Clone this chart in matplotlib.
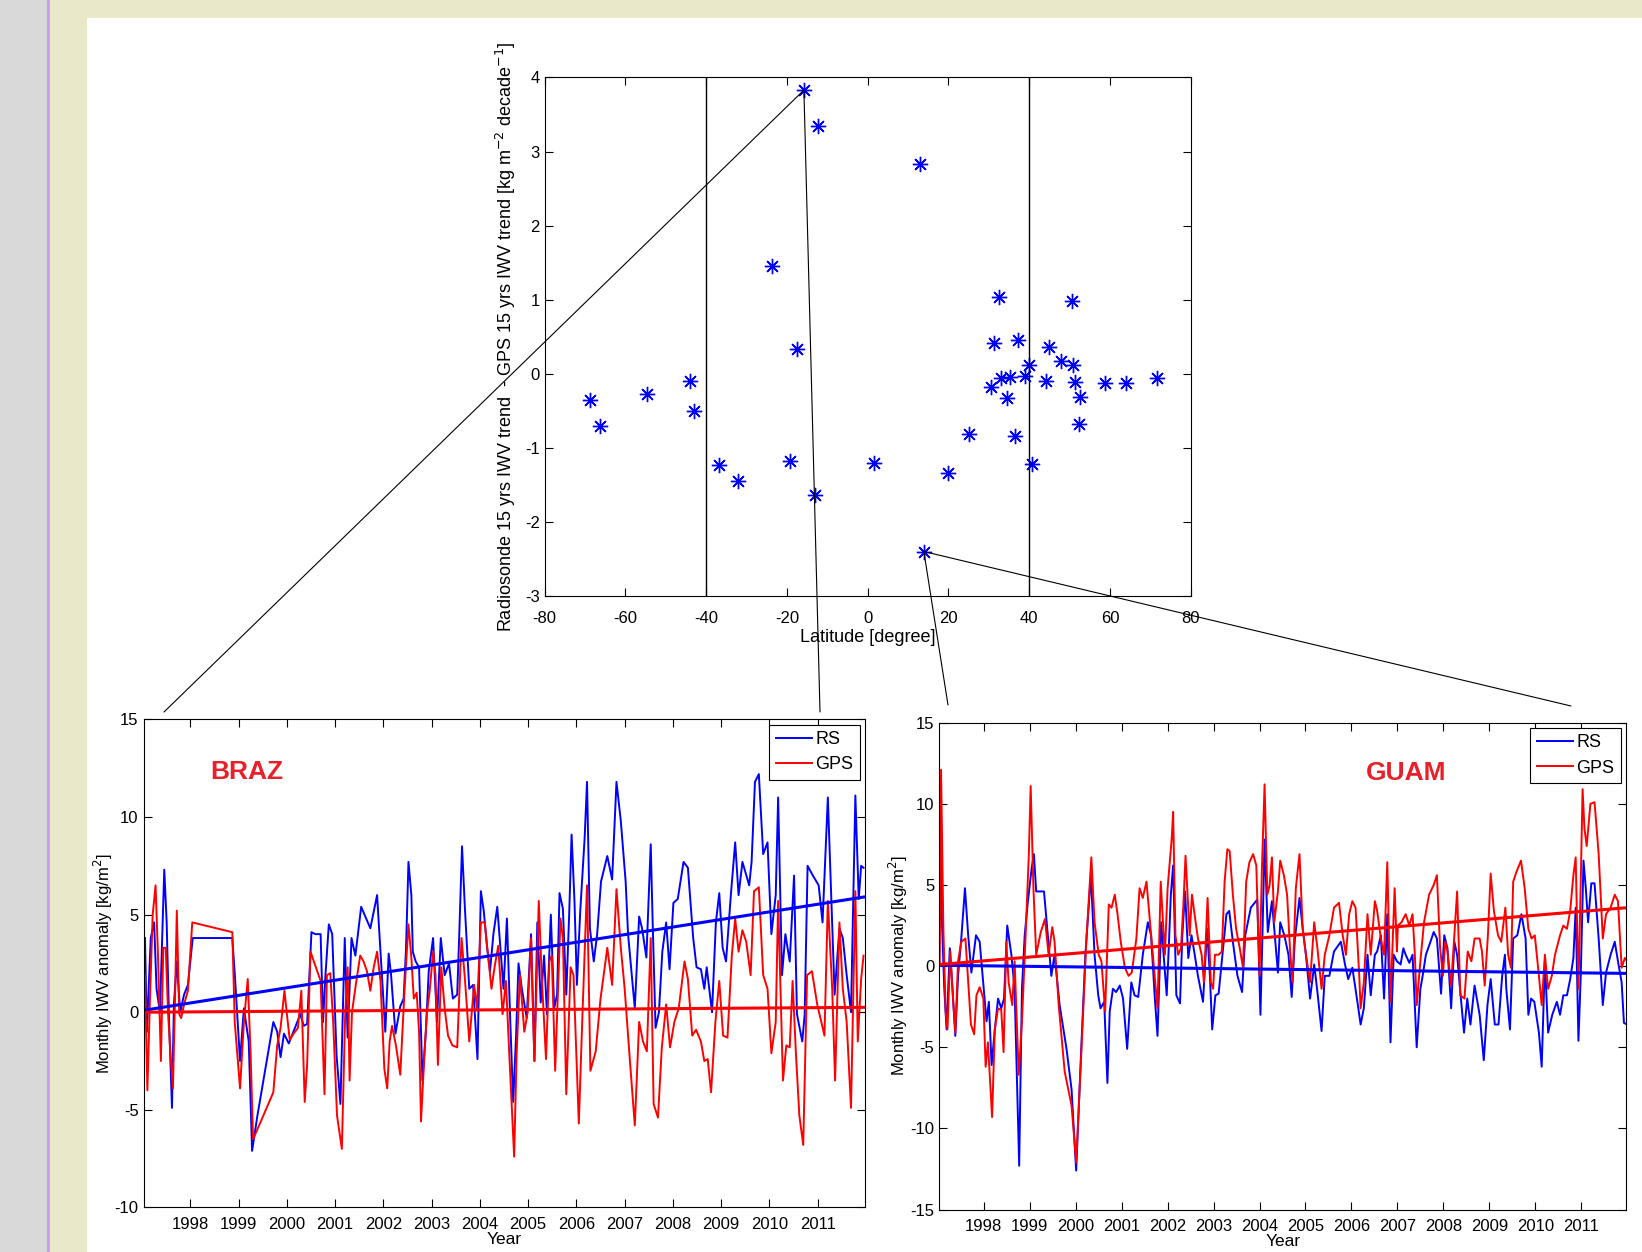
###########################################
# RS vs GPS IWV trends - scatter + 2 sites #
###########################################
import numpy as np
import matplotlib
matplotlib.use('Agg')
import matplotlib.pyplot as plt
from matplotlib.patches import Rectangle, ConnectionPatch

plt.rcParams['font.family'] = ['Liberation Sans', 'DejaVu Sans']
plt.rcParams['axes.unicode_minus'] = False

#################
# Scatter data  #
#################
# latitude [deg], RS trend - GPS trend [kg m-2 decade-1]
lat = [-68.7, -66.2, -54.6, -44.0, -42.9, -36.8, -32.0, -23.7, -19.2, -17.6,
       -15.8, -12.3, -13.0, 1.5, 12.9, 13.9, 19.8, 25.1, 30.5, 31.3,
       32.6, 33.0, 34.6, 35.3, 36.5, 37.3, 39.0, 40.0, 40.7, 44.1,
       44.8, 47.8, 50.6, 50.9, 51.3, 52.6, 52.3, 58.7, 63.9, 71.7]
trend_diff = [-0.36, -0.70, -0.27, -0.10, -0.50, -1.23, -1.45, 1.46, -1.18, 0.34,
              3.83, 3.35, -1.64, -1.20, 2.83, -2.40, -1.34, -0.82, -0.18, 0.42,
              1.03, -0.06, -0.33, -0.04, -0.84, 0.46, -0.03, 0.12, -1.22, -0.10,
              0.36, 0.17, 0.98, 0.12, -0.11, -0.32, -0.68, -0.13, -0.13, -0.06]

# stations picked out below
braz_pt = (-15.8, 3.83)
guam_pt = (13.9, -2.40)

#########################################
# Monthly IWV anomaly (year, kg/m2)     #
#########################################
braz_rs = [(1997.06, 3.8), (1997.10, -1.0), (1997.18, 3.8), (1997.25, 4.6), (1997.30, 1.2),
           (1997.37, 0.0), (1997.46, 7.3), (1997.51, 4.6), (1997.56, -0.5), (1997.62, -4.9),
           (1997.66, 0.4), (1997.72, 2.6), (1997.79, 0.0), (1997.87, 0.9), (1997.95, 1.4),
           (1998.05, 3.8), (1998.87, 3.8), (1998.92, 2.0), (1999.03, -2.5), (1999.11, 0.2),
           (1999.21, -1.5), (1999.28, -7.1), (1999.39, -5.3), (1999.72, -0.5), (1999.80, -1.0),
           (1999.87, -2.3), (1999.94, -1.1), (2000.04, -1.6), (2000.28, -0.1), (2000.35, -0.7),
           (2000.42, -0.6), (2000.51, 4.1), (2000.59, 4.0), (2000.70, 4.0), (2000.75, -0.5),
           (2000.80, 1.9), (2000.87, 4.5), (2000.94, 4.0), (2001.03, -2.2), (2001.11, -4.7),
           (2001.20, 3.8), (2001.26, -1.3), (2001.34, 3.8), (2001.42, 2.9), (2001.54, 5.4),
           (2001.73, 4.3), (2001.87, 6.0), (2002.04, -1.0), (2002.11, 3.0), (2002.16, 1.9),
           (2002.25, -1.1), (2002.35, 0.3), (2002.42, 0.7), (2002.47, 3.3), (2002.52, 7.7),
           (2002.58, 6.0), (2002.61, 3.1), (2002.67, 2.6), (2002.74, 2.3), (2002.81, -3.5),
           (2002.88, -1.0), (2002.94, 2.1), (2003.03, 3.8), (2003.11, -0.5), (2003.19, 3.8),
           (2003.27, 1.9), (2003.36, 2.5), (2003.44, 0.7), (2003.53, 0.9), (2003.57, 3.8),
           (2003.63, 8.5), (2003.69, 5.3), (2003.78, 1.2), (2003.86, 1.4), (2003.95, -2.4),
           (2004.02, 6.2), (2004.08, 5.2), (2004.15, 3.3), (2004.21, 2.1), (2004.28, 4.0),
           (2004.36, 5.4), (2004.43, 3.1), (2004.49, 1.2), (2004.56, 4.8), (2004.63, -0.5),
           (2004.69, -4.6), (2004.75, -1.2), (2004.80, 2.5), (2004.87, 1.2), (2004.97, -0.3),
           (2005.06, 4.0), (2005.13, -2.5), (2005.19, 4.6), (2005.26, 0.5), (2005.33, 2.9),
           (2005.39, -0.1), (2005.47, 5.0), (2005.54, 0.2), (2005.60, 0.9), (2005.65, 6.1),
           (2005.72, 5.3), (2005.79, 0.9), (2005.85, 5.0), (2005.90, 9.1), (2005.96, 5.7),
           (2006.01, 1.4), (2006.08, 5.2), (2006.17, 8.9), (2006.22, 11.8), (2006.28, 4.3),
           (2006.36, 2.6), (2006.43, 4.0), (2006.51, 6.7), (2006.64, 8.0), (2006.74, 6.8),
           (2006.83, 11.8), (2006.92, 9.8), (2007.02, 6.7), (2007.07, 4.0), (2007.21, 0.2),
           (2007.30, 4.9), (2007.36, 4.3), (2007.45, 2.8), (2007.54, 8.6), (2007.58, 4.6),
           (2007.64, -0.8), (2007.71, 0.0), (2007.78, 3.1), (2007.86, 4.6), (2007.93, 2.2),
           (2008.01, 5.6), (2008.10, 5.8), (2008.22, 7.7), (2008.31, 7.4), (2008.42, 3.8),
           (2008.49, 2.3), (2008.58, 2.2), (2008.65, 1.2), (2008.70, 2.3), (2008.81, 0.0),
           (2008.89, 4.6), (2008.96, 6.1), (2009.03, 3.3), (2009.10, 2.6), (2009.20, 6.0),
           (2009.29, 8.7), (2009.36, 6.0), (2009.44, 7.7), (2009.58, 6.5), (2009.63, 7.7),
           (2009.70, 11.8), (2009.78, 12.2), (2009.87, 8.1), (2009.96, 8.7), (2010.04, 4.0),
           (2010.13, 6.0), (2010.18, 11.0), (2010.26, 1.9), (2010.33, 4.0), (2010.42, 2.6),
           (2010.51, 7.0), (2010.57, -0.1), (2010.68, -1.5), (2010.73, -0.1), (2010.79, 7.5),
           (2010.90, 7.0), (2011.02, 6.5), (2011.10, 4.6), (2011.21, 11.0), (2011.35, 0.9),
           (2011.45, 4.3), (2011.52, 3.8), (2011.60, 1.9), (2011.69, 0.0), (2011.78, 11.1),
           (2011.85, 5.8), (2011.90, 7.5), (2011.95, 7.4)]

braz_gps = [(1997.06, 1.9), (1997.11, -4.0), (1997.17, 1.2), (1997.22, 5.0), (1997.28, 6.5),
            (1997.33, 2.9), (1997.39, -2.5), (1997.44, 3.3), (1997.49, 3.3), (1997.54, -0.1),
            (1997.59, -2.2), (1997.64, -3.9), (1997.68, 0.4), (1997.72, 5.2), (1997.77, -0.1),
            (1997.81, -0.3), (1997.87, 0.4), (1997.95, 1.1), (1998.04, 4.6), (1998.87, 4.1),
            (1998.92, -0.5), (1999.03, -3.9), (1999.11, -0.5), (1999.19, 1.7), (1999.25, -2.2),
            (1999.30, -6.5), (1999.46, -5.6), (1999.72, -4.1), (1999.80, -1.7), (1999.87, -0.8),
            (1999.95, 1.1), (2000.01, -0.3), (2000.06, -1.4), (2000.14, -1.1), (2000.23, -0.8),
            (2000.30, 1.1), (2000.37, -4.6), (2000.42, -2.7), (2000.49, 3.1), (2000.56, 2.6),
            (2000.63, 2.1), (2000.70, 1.6), (2000.78, -4.2), (2000.83, 1.9), (2000.90, 2.0),
            (2000.96, -0.5), (2001.04, -5.3), (2001.14, -7.0), (2001.21, 0.0), (2001.26, 2.3),
            (2001.30, -3.5), (2001.35, 0.0), (2001.44, 1.6), (2001.52, 2.9), (2001.59, 2.6),
            (2001.66, 2.1), (2001.73, 1.1), (2001.80, 2.3), (2001.87, 3.1), (2001.94, 1.6),
            (2002.02, -2.9), (2002.08, -3.9), (2002.13, -1.5), (2002.18, -0.7), (2002.26, -1.7),
            (2002.35, -3.2), (2002.44, 1.2), (2002.52, 4.5), (2002.58, 2.8), (2002.63, 0.7),
            (2002.69, 1.0), (2002.74, -1.0), (2002.78, -5.6), (2002.85, -2.2), (2002.90, -0.1),
            (2002.96, 1.1), (2003.03, 3.1), (2003.08, 1.9), (2003.13, -2.7), (2003.20, 2.3),
            (2003.27, 0.2), (2003.34, -1.2), (2003.43, -1.7), (2003.53, -1.8), (2003.62, 3.8),
            (2003.69, 1.7), (2003.78, -1.5), (2003.88, 1.4), (2003.94, 0.2), (2004.02, 4.6),
            (2004.10, 4.6), (2004.17, 2.9), (2004.24, 1.2), (2004.31, 2.4), (2004.38, 3.4),
            (2004.47, -0.1), (2004.54, 1.6), (2004.61, -2.2), (2004.71, -7.4), (2004.76, -2.2),
            (2004.83, 1.9), (2004.92, -1.0), (2004.99, 0.0), (2005.06, 3.8), (2005.13, -2.5),
            (2005.22, 5.7), (2005.28, 1.9), (2005.37, -2.4), (2005.44, 2.6), (2005.49, 2.9),
            (2005.56, -3.0), (2005.67, 4.8), (2005.72, 3.8), (2005.79, -4.2), (2005.88, 2.3),
            (2005.94, 1.9), (2006.05, -5.7), (2006.12, -0.5), (2006.22, 6.5), (2006.29, -3.0),
            (2006.40, -2.0), (2006.50, 0.7), (2006.64, 3.3), (2006.74, 1.4), (2006.83, 6.3),
            (2006.92, 3.3), (2007.00, 1.2), (2007.10, -2.2), (2007.21, -5.8), (2007.30, -0.5),
            (2007.38, -1.5), (2007.46, -2.0), (2007.54, 3.8), (2007.60, -4.7), (2007.69, -5.4),
            (2007.77, -1.8), (2007.86, 0.4), (2007.94, -1.8), (2008.03, -0.5), (2008.12, 0.2),
            (2008.24, 2.6), (2008.31, 1.7), (2008.40, -1.2), (2008.48, -0.9), (2008.58, -1.5),
            (2008.65, -2.5), (2008.72, -2.4), (2008.79, -4.1), (2008.88, -0.5), (2008.96, 1.6),
            (2009.04, -1.2), (2009.13, -1.3), (2009.22, 2.9), (2009.29, 4.8), (2009.36, 3.1),
            (2009.44, 4.2), (2009.52, 3.6), (2009.61, 1.9), (2009.68, 6.2), (2009.78, 6.4),
            (2009.87, 1.9), (2009.96, 1.2), (2010.04, -2.1), (2010.13, -0.5), (2010.18, 5.7),
            (2010.28, -3.5), (2010.35, -1.7), (2010.42, -1.8), (2010.48, 1.6), (2010.55, -2.2),
            (2010.62, -5.3), (2010.70, -6.8), (2010.78, 1.9), (2010.88, 2.1), (2010.99, 0.4),
            (2011.14, -1.2), (2011.21, 5.7), (2011.30, 1.2), (2011.36, -3.5), (2011.45, 4.6),
            (2011.52, 1.2), (2011.60, -0.5), (2011.69, -4.9), (2011.78, 6.2), (2011.83, -1.5),
            (2011.90, 1.7), (2011.95, 2.9)]

guam_rs = [(1997.05, 4.4), (1997.07, 6.7), (1997.09, 2.7), (1997.14, -1.4), (1997.19, -3.9),
           (1997.26, 1.1), (1997.31, -1.0), (1997.38, -4.3), (1997.44, -0.6), (1997.51, 1.7),
           (1997.59, 4.8), (1997.66, 1.9), (1997.73, -0.4), (1997.83, 1.9), (1997.91, 1.5),
           (1998.01, -1.8), (1998.06, -3.4), (1998.11, -2.2), (1998.17, -6.1), (1998.24, -3.9),
           (1998.31, -2.0), (1998.38, -2.6), (1998.44, -2.0), (1998.51, 2.5), (1998.60, 0.7),
           (1998.67, -1.4), (1998.77, -12.3), (1998.83, -1.4), (1998.89, 1.9), (1998.96, 4.0),
           (1999.04, 6.0), (1999.09, 6.9), (1999.14, 4.6), (1999.31, 4.6), (1999.40, 1.7),
           (1999.47, -0.6), (1999.54, 0.7), (1999.65, -2.4), (1999.80, -5.1), (1999.91, -7.6),
           (2000.01, -12.6), (2000.12, -5.1), (2000.21, 0.7), (2000.33, 5.6), (2000.41, 0.7),
           (2000.49, -1.8), (2000.54, -2.6), (2000.62, -2.2), (2000.69, -7.2), (2000.74, -2.8),
           (2000.81, -1.4), (2000.88, -1.6), (2000.96, -1.2), (2001.03, -2.0), (2001.12, -5.1),
           (2001.21, -1.0), (2001.28, -1.8), (2001.36, -1.9), (2001.46, 0.7), (2001.57, 2.7),
           (2001.64, 1.9), (2001.72, -1.9), (2001.78, -4.3), (2001.86, 2.7), (2001.98, -1.8),
           (2002.03, 1.5), (2002.07, 4.4), (2002.12, 6.2), (2002.19, -1.8), (2002.27, -2.3),
           (2002.32, 1.9), (2002.38, 4.6), (2002.45, 0.5), (2002.52, 1.9), (2002.59, 0.7),
           (2002.66, -0.6), (2002.77, -2.2), (2002.86, 2.3), (2002.92, -0.6), (2002.97, -3.9),
           (2003.04, -1.8), (2003.11, -1.7), (2003.18, 0.3), (2003.28, 3.2), (2003.34, 3.4),
           (2003.42, 1.5), (2003.52, -0.6), (2003.62, -1.6), (2003.69, 1.9), (2003.81, 3.6),
           (2003.95, 4.1), (2004.02, -3.0), (2004.07, 2.7), (2004.11, 7.8), (2004.18, 2.1),
           (2004.27, 4.0), (2004.32, 2.3), (2004.40, -0.4), (2004.45, 2.7), (2004.54, 1.9),
           (2004.63, 0.7), (2004.70, -1.9), (2004.77, 1.7), (2004.87, 4.2), (2004.94, 2.3),
           (2005.01, 0.7), (2005.10, -2.0), (2005.19, 0.1), (2005.26, -1.6), (2005.35, -4.0),
           (2005.42, -0.6), (2005.52, -0.6), (2005.62, 0.9), (2005.77, 1.5), (2005.86, 0.1),
           (2005.93, -0.8), (2006.02, -0.1), (2006.13, -2.2), (2006.20, -3.6), (2006.27, -2.6),
           (2006.35, 0.7), (2006.42, -1.8), (2006.51, 0.7), (2006.56, 0.9), (2006.64, 1.9),
           (2006.71, -2.0), (2006.78, 3.2), (2006.85, -4.7), (2006.92, 0.7), (2006.99, 0.3),
           (2007.07, 0.1), (2007.13, 1.1), (2007.18, 0.7), (2007.26, 0.2), (2007.33, 0.7),
           (2007.38, -2.4), (2007.42, -5.0), (2007.50, -1.4), (2007.55, -0.6), (2007.62, 0.7),
           (2007.72, 1.5), (2007.79, 2.1), (2007.86, 1.7), (2007.95, -1.7), (2008.02, 1.9),
           (2008.09, 1.1), (2008.17, -2.6), (2008.24, 1.5), (2008.30, 0.7), (2008.35, -1.0),
           (2008.45, -4.1), (2008.52, -2.0), (2008.59, -3.6), (2008.68, -1.2), (2008.79, -3.0),
           (2008.88, -5.8), (2008.96, -2.4), (2009.03, -0.8), (2009.12, -3.6), (2009.20, -3.6),
           (2009.28, -0.6), (2009.34, 0.7), (2009.37, -1.4), (2009.45, -3.9), (2009.52, 1.7),
           (2009.61, 1.9), (2009.70, 3.2), (2009.79, 1.7), (2009.85, -3.0), (2009.91, -2.0),
           (2009.98, -2.2), (2010.08, -4.1), (2010.14, -6.2), (2010.21, 0.3), (2010.28, -4.1),
           (2010.37, -3.0), (2010.47, -2.2), (2010.54, -3.0), (2010.61, -1.8), (2010.69, -1.8),
           (2010.76, -0.8), (2010.83, 0.5), (2010.88, 3.6), (2010.94, -4.6), (2010.99, -0.6),
           (2011.05, 6.5), (2011.10, 4.8), (2011.15, 2.7), (2011.22, 5.1), (2011.29, 5.1),
           (2011.38, 1.7), (2011.47, -2.4), (2011.54, -0.4), (2011.64, 0.7), (2011.73, 1.5),
           (2011.80, 0.3), (2011.88, -1.0), (2011.93, -3.5), (2012.00, -3.6)]

guam_gps = [(1997.04, 0.1), (1997.07, 12.1), (1997.09, 8.1), (1997.12, 2.3), (1997.17, -2.8),
            (1997.21, -3.9), (1997.27, 0.9), (1997.33, -2.0), (1997.38, -4.1), (1997.44, 0.3),
            (1997.51, 1.5), (1997.60, 1.7), (1997.66, -1.0), (1997.72, -3.6), (1997.79, -4.2),
            (1997.84, -1.8), (1997.91, -1.3), (1997.99, -2.0), (1998.04, -6.2), (1998.09, -4.7),
            (1998.13, -6.7), (1998.18, -9.3), (1998.24, -3.9), (1998.31, -2.6), (1998.38, -2.7),
            (1998.43, -5.3), (1998.49, 1.5), (1998.54, -1.0), (1998.62, -2.4), (1998.67, 0.3),
            (1998.76, -6.7), (1998.83, -3.4), (1998.91, 1.9), (1998.98, 6.9), (1999.02, 11.1),
            (1999.08, 4.8), (1999.14, 0.7), (1999.24, 2.1), (1999.33, 2.9), (1999.41, 0.7),
            (1999.49, 2.4), (1999.54, 1.5), (1999.63, -2.4), (1999.76, -6.5), (1999.91, -8.6),
            (2000.01, -12.1), (2000.12, -5.5), (2000.23, 1.5), (2000.34, 6.7), (2000.41, 2.7),
            (2000.50, 0.7), (2000.56, 0.3), (2000.64, -2.8), (2000.72, 3.8), (2000.78, 3.6),
            (2000.85, 4.4), (2000.91, 3.2), (2000.98, 1.5), (2001.07, -0.1), (2001.15, -0.6),
            (2001.22, -0.4), (2001.32, 1.7), (2001.39, 4.8), (2001.46, 4.2), (2001.54, 5.2),
            (2001.66, 1.3), (2001.73, -1.0), (2001.78, -2.6), (2001.85, 5.2), (2001.94, 0.7),
            (2002.00, 4.8), (2002.05, 6.5), (2002.09, 7.9), (2002.12, 9.5), (2002.17, 1.9),
            (2002.23, 0.7), (2002.29, 1.1), (2002.34, 3.6), (2002.39, 6.8), (2002.45, 3.6),
            (2002.48, 1.9), (2002.53, 4.4), (2002.61, 2.7), (2002.66, 1.7), (2002.74, 0.7),
            (2002.79, -1.0), (2002.87, 4.2), (2002.94, -1.0), (2002.99, -1.4), (2003.03, 0.7),
            (2003.11, 0.7), (2003.18, 0.9), (2003.24, 5.2), (2003.30, 7.2), (2003.35, 7.1),
            (2003.42, 4.4), (2003.49, 2.3), (2003.57, 1.1), (2003.64, -0.1), (2003.71, 5.2),
            (2003.78, 6.4), (2003.86, 6.9), (2003.93, 6.2), (2004.00, -0.6), (2004.05, 5.8),
            (2004.11, 11.2), (2004.17, 4.4), (2004.22, 5.0), (2004.27, 6.7), (2004.32, 2.7),
            (2004.40, 4.6), (2004.45, 6.5), (2004.53, 5.6), (2004.60, 4.4), (2004.67, 0.7),
            (2004.72, -1.0), (2004.79, 4.8), (2004.87, 6.9), (2004.94, 2.3), (2005.01, 0.7),
            (2005.10, -1.0), (2005.19, 2.7), (2005.26, 1.1), (2005.35, -1.4), (2005.42, 0.7),
            (2005.52, 1.9), (2005.62, 3.6), (2005.73, 3.9), (2005.81, 1.9), (2005.88, 0.7),
            (2005.95, 3.2), (2006.02, 4.0), (2006.09, 3.6), (2006.17, -0.6), (2006.20, -2.6),
            (2006.27, -1.0), (2006.35, 3.2), (2006.42, 0.7), (2006.51, 4.0), (2006.56, 3.4),
            (2006.64, 1.7), (2006.71, 0.7), (2006.78, 6.4), (2006.85, -2.2), (2006.94, 4.8),
            (2006.99, 0.9), (2007.01, 2.5), (2007.09, 2.7), (2007.18, 3.2), (2007.26, 2.5),
            (2007.33, 3.2), (2007.38, 0.7), (2007.42, -2.4), (2007.50, 0.3), (2007.58, 2.7),
            (2007.69, 4.4), (2007.79, 5.0), (2007.86, 5.6), (2007.93, 1.1), (2007.99, -0.6),
            (2008.04, 1.5), (2008.09, 0.9), (2008.17, -1.2), (2008.24, 1.9), (2008.30, 4.6),
            (2008.37, -1.8), (2008.46, -2.0), (2008.53, 0.9), (2008.61, 0.3), (2008.68, 1.7),
            (2008.79, 1.7), (2008.84, 0.9), (2008.90, -1.2), (2008.97, 1.9), (2009.03, 5.7),
            (2009.10, 3.4), (2009.19, 1.9), (2009.26, 1.5), (2009.35, 3.6), (2009.41, 0.7),
            (2009.47, -0.1), (2009.52, 5.2), (2009.59, 5.8), (2009.69, 6.5), (2009.77, 4.8),
            (2009.85, 2.3), (2009.92, 1.7), (2009.99, 1.9), (2010.08, -0.6), (2010.14, -2.4),
            (2010.21, 0.7), (2010.28, -1.4), (2010.36, -0.6), (2010.43, 0.7), (2010.54, 1.9),
            (2010.61, 2.5), (2010.69, 2.3), (2010.76, 3.4), (2010.83, 5.6), (2010.88, 6.7),
            (2010.94, -1.4), (2010.99, 5.2), (2011.03, 10.9), (2011.07, 8.5), (2011.12, 7.4),
            (2011.20, 10.0), (2011.29, 10.1), (2011.38, 6.9), (2011.47, 1.7), (2011.54, 3.2),
            (2011.64, 3.6), (2011.73, 4.4), (2011.80, 4.0), (2011.88, -0.1), (2011.95, 0.5),
            (2012.00, 0.3)]

# linear trend lines (start, end)
braz_rs_fit = [(1997.04, 0.1), (2011.95, 5.9)]
braz_gps_fit = [(1997.04, 0.0), (2011.95, 0.25)]
guam_rs_fit = [(1997.04, 0.05), (2012.0, -0.45)]
guam_gps_fit = [(1997.04, 0.1), (2012.0, 3.6)]

years = list(range(1998, 2012))

##########
# Figure #
##########
fig = plt.figure(figsize=(16.42, 12.52), dpi=100)
fig.patch.set_facecolor('white')

# slide background strips (grey margin, purple rule, beige frame)
W, H = 1642.0, 1252.0
fig.patches.append(Rectangle((0, 0), 47 / W, 1, transform=fig.transFigure,
                             facecolor='#d9d9d9', edgecolor='none', zorder=-10))
fig.patches.append(Rectangle((47 / W, 0), 3 / W, 1, transform=fig.transFigure,
                             facecolor='#c99cf5', edgecolor='none', zorder=-10))
fig.patches.append(Rectangle((50 / W, 0), 37 / W, 1, transform=fig.transFigure,
                             facecolor='#e9e8c8', edgecolor='none', zorder=-10))
fig.patches.append(Rectangle((50 / W, 1 - 18 / H), 1 - 50 / W, 18 / H, transform=fig.transFigure,
                             facecolor='#e9e8c8', edgecolor='none', zorder=-10))


def matlab_axes(ax, xpad=4):
    ax.tick_params(direction='in', top=True, right=True, length=6, width=0.8,
                   labelsize=12)
    ax.tick_params(axis='x', pad=xpad)
    for s in ax.spines.values():
        s.set_linewidth(0.8)


################
# Scatter plot #
################
ax0 = fig.add_axes([0.3317, 0.5240, 0.3935, 0.4141])
ax0.plot(lat, trend_diff, marker=(8, 2, 0), color='blue', ms=11, mew=1.0,
         linestyle='none')
ax0.axvline(-40, color='black', lw=1)
ax0.axvline(40, color='black', lw=1)
ax0.set_xlim(-80, 80)
ax0.set_ylim(-3, 4)
ax0.set_xticks(np.arange(-80, 81, 20))
ax0.set_yticks(np.arange(-3, 5, 1))
ax0.set_xlabel('Latitude [degree]', fontsize=13, labelpad=2)
ax0.set_ylabel('Radiosonde 15 yrs IWV trend  - GPS 15 yrs IWV trend [kg m$^{-2}$ decade$^{-1}$]',
               fontsize=13, labelpad=5)
matlab_axes(ax0, xpad=11)


def iwv_panel(rect, rs, gps, rs_fit, gps_fit, ylim, site, site_xy):
    ax = fig.add_axes(rect)
    t, v = zip(*rs)
    ax.plot(t, v, color='blue', lw=1.4, label='RS')
    t, v = zip(*gps)
    ax.plot(t, v, color='red', lw=1.4, label='GPS')
    t, v = zip(*rs_fit)
    ax.plot(t, v, color='blue', lw=2.2)
    t, v = zip(*gps_fit)
    ax.plot(t, v, color='red', lw=2.2)
    ax.set_xlim(1997.03, 2011.98)
    ax.set_ylim(*ylim)
    ax.set_xticks(years)
    ax.set_yticks(np.arange(ylim[0], ylim[1] + 1, 5))
    ax.set_xlabel('Year', fontsize=12.5, labelpad=0)
    ax.set_ylabel('Monthly IWV anomaly [kg/m$^2$]', fontsize=12, labelpad=0)
    ax.text(site_xy[0], site_xy[1], site, transform=ax.transAxes, color='#e8202a',
            fontsize=19, fontweight='bold', ha='center', va='center')
    leg = ax.legend(loc='upper right', fontsize=13, fancybox=False, framealpha=1,
                    edgecolor='black', borderaxespad=0.3, handlelength=2.0,
                    handletextpad=0.2, labelspacing=0.45, borderpad=0.35)
    leg.get_frame().set_linewidth(0.8)
    matlab_axes(ax, xpad=7)
    return ax


ax1 = iwv_panel([0.0874, 0.0356, 0.4394, 0.3898], braz_rs, braz_gps,
                braz_rs_fit, braz_gps_fit, (-10, 15), 'BRAZ', (0.143, 0.893))
ax2 = iwv_panel([0.5720, 0.0339, 0.4184, 0.3889], guam_rs, guam_gps,
                guam_rs_fit, guam_gps_fit, (-15, 15), 'GUAM', (0.68, 0.897))

###################################
# Lines from station to its panel #
###################################
links = [(braz_pt, (164, 712)), (braz_pt, (820, 712)),
         (guam_pt, (948, 705)), (guam_pt, (1571, 706))]
for pt, px in links:
    con = ConnectionPatch(xyA=pt, coordsA=ax0.transData,
                          xyB=(px[0] / W, 1 - px[1] / H), coordsB=fig.transFigure,
                          color='black', lw=0.8, zorder=20)
    fig.add_artist(con)

plt.savefig('out.png', dpi=100)
